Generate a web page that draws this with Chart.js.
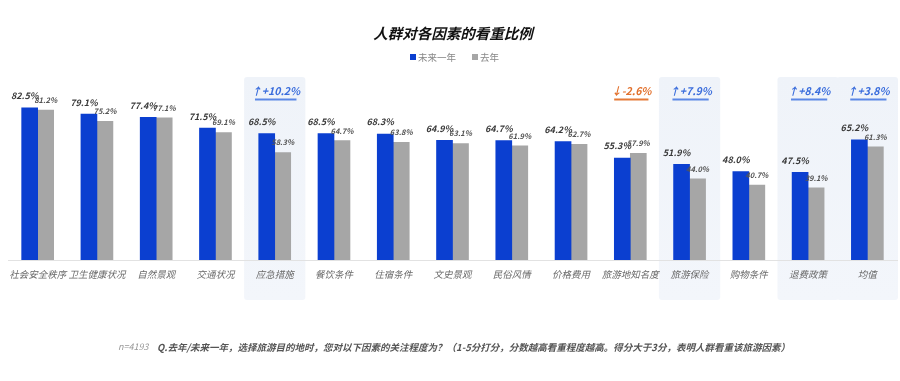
<!DOCTYPE html>
<html>
<head>
<meta charset="utf-8">
<script src="https://cdn.jsdelivr.net/npm/chart.js@4.4.1/dist/chart.umd.min.js"></script>
<style>
  html,body{margin:0;padding:0;background:#fff;}
  #wrap{width:900px;height:381px;position:relative;}
</style>
</head>
<body>
<div id="wrap"><canvas id="c" width="900" height="381"></canvas></div>
<script>
const categories = ['社会安全秩序','卫生健康状况','自然景观','交通状况','应急措施','餐饮条件','住宿条件','文史景观','民俗风情','价格费用','旅游地知名度','旅游保险','购物条件','退费政策','均值'];
const nextYear = [82.5,79.1,77.4,71.5,68.5,68.5,68.3,64.9,64.7,64.2,55.3,51.9,48.0,47.5,65.2];
const lastYear = [81.2,75.2,77.1,69.1,58.3,64.7,63.8,63.1,61.9,62.7,57.9,44.0,40.7,39.1,61.3];
const seriesNames = ['未来一年','去年'];
const highlightIdx = [4,11,13,14];
const changeIdx = [4,10,11,13,14];
const changeText = ['↑+10.2%','↓-2.6%','↑+7.9%','↑+8.4%','↑+3.8%'];
const changeUp = [true,false,true,true,true];
const titleText = '人群对各因素的看重比例';
const noteN = 'n=4193';
const noteQ = 'Q.去年/未来一年，选择旅游目的地时，您对以下因素的关注程度为？（1-5分打分，分数越高看重程度越高。得分大于3分，表明人群看重该旅游因素）';

const BLUE = '#0b3fd0';
const GRAY = '#a6a6a6';
const FONT = '"Noto Sans CJK SC","Noto Sans",sans-serif';

function rr(ctx,x,y,w,h,r){
  ctx.beginPath();
  ctx.moveTo(x+r,y);ctx.lineTo(x+w-r,y);ctx.quadraticCurveTo(x+w,y,x+w,y+r);
  ctx.lineTo(x+w,y+h-r);ctx.quadraticCurveTo(x+w,y+h,x+w-r,y+h);
  ctx.lineTo(x+r,y+h);ctx.quadraticCurveTo(x,y+h,x,y+h-r);
  ctx.lineTo(x,y+r);ctx.quadraticCurveTo(x,y,x+r,y);ctx.closePath();
}

const deco = {
  id:'deco',
  beforeDraw(chart){
    const ctx = chart.ctx, xs = chart.scales.x;
    const w = xs.width / categories.length;
    ctx.save();
    highlightIdx.forEach(i=>{
      const cx = xs.getPixelForValue(i);
      const g = ctx.createLinearGradient(0,77,0,300);
      g.addColorStop(0,'#eff3f9');
      g.addColorStop(1,'#f3f6fb');
      ctx.fillStyle = g;
      rr(ctx,cx-w/2-1,77,w+2,223,3);
      ctx.fill();
    });
    ctx.restore();
  },
  afterDraw(chart){
    const ctx = chart.ctx, xs = chart.scales.x;
    ctx.save();
    // title
    ctx.fillStyle = '#111';
    ctx.font = 'italic bold 14.5px ' + FONT;
    ctx.textAlign = 'center'; ctx.textBaseline = 'middle';
    ctx.fillText(titleText, 453, 33);
    // legend
    ctx.font = '9.5px ' + FONT;
    ctx.textAlign = 'left';
    ctx.fillStyle = BLUE; ctx.fillRect(410,54,6,6);
    ctx.fillStyle = '#888'; ctx.fillText(seriesNames[0], 418, 57.5);
    ctx.fillStyle = GRAY; ctx.fillRect(472,54,6,6);
    ctx.fillStyle = '#888'; ctx.fillText(seriesNames[1], 480, 57.5);
    // change annotations
    changeIdx.forEach((i,k)=>{
      const cx = xs.getPixelForValue(i);
      const col = changeUp[k] ? '#3a6ddc' : '#e2702c';
      const lc = changeUp[k] ? '#5b87e6' : '#e57a38';
      ctx.font = 'italic bold 10.5px ' + FONT;
      ctx.textAlign = 'center'; ctx.textBaseline = 'middle';
      ctx.fillStyle = col;
      ctx.fillText(changeText[k], cx + 1, 91);
      const tw = ctx.measureText(changeText[k]).width;
      ctx.fillStyle = lc;
      ctx.fillRect(cx + 1 - (tw*0.85)/2, 98.5, tw*0.85, 2);
    });
    // data labels
    const m0 = chart.getDatasetMeta(0), m1 = chart.getDatasetMeta(1);
    ctx.textAlign = 'center'; ctx.textBaseline = 'middle';
    m0.data.forEach((b,i)=>{
      ctx.font = 'italic bold 9px ' + FONT;
      ctx.fillStyle = '#3a3a3a';
      ctx.fillText(nextYear[i].toFixed(1)+'%', b.x - 5, b.y - 12);
    });
    m1.data.forEach((b,i)=>{
      ctx.font = 'italic bold 7.5px ' + FONT;
      ctx.fillStyle = '#555';
      ctx.fillText(lastYear[i].toFixed(1)+'%', b.x, b.y - 10);
    });
    // footnote
    ctx.textAlign = 'left';
    ctx.font = 'italic 9px ' + FONT;
    ctx.fillStyle = '#999';
    ctx.fillText(noteN, 118, 347);
    ctx.font = 'italic bold 9.5px ' + FONT;
    ctx.fillStyle = '#555';
    ctx.fillText(noteQ, 157, 347);
    ctx.restore();
  }
};

new Chart(document.getElementById('c'), {
  type:'bar',
  data:{
    labels: categories,
    datasets:[
      {label:seriesNames[0], data:nextYear, backgroundColor:BLUE, barThickness:16, categoryPercentage:0.6, barPercentage:1},
      {label:seriesNames[1], data:lastYear, backgroundColor:GRAY, barThickness:16, categoryPercentage:0.6, barPercentage:1}
    ]
  },
  options:{
    responsive:false,
    animation:false,
    layout:{padding:{top:75.5,left:5,right:3,bottom:91.5}},
    plugins:{legend:{display:false},title:{display:false},tooltip:{enabled:false}},
    scales:{
      x:{
        grid:{display:false,drawTicks:false},
        border:{display:true,color:'#e2e2e2',width:1},
        ticks:{padding:9,color:'#6a6a6a',font:{family:FONT,size:9.5,style:'italic'},maxRotation:0,autoSkip:false}
      },
      y:{display:false,min:0,max:100}
    }
  },
  plugins:[deco]
});
</script>
</body>
</html>
